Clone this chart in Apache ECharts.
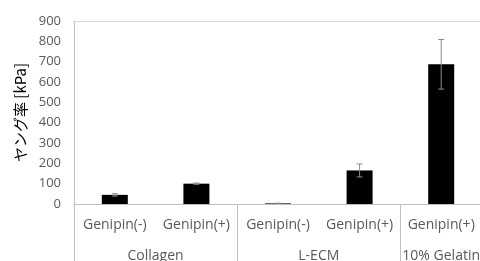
<!DOCTYPE html>
<html>
<head>
<meta charset="utf-8">
<script src="https://cdn.jsdelivr.net/npm/echarts@6/dist/echarts.min.js"></script>
<style>
  html, body { margin: 0; padding: 0; background: #fff; }
  #chart { width: 480px; height: 261px; }
</style>
</head>
<body>
<div id="chart"></div>
<script>
// Data
const categories = ["Genipin(-)", "Genipin(+)", "Genipin(-)", "Genipin(+)", "Genipin(+)"];
const groupLabels = ["", "", "Collagen", "", "", "", "L-ECM", "", "", "10% Gelatin", ""];
const values = [45, 100, 3, 165, 687];
const errors = [6, 3, 1, 32, 122];
const yTicks = { min: 0, max: 900, interval: 100 };

const chartDom = document.getElementById("chart");
const myChart = echarts.init(chartDom);

const lineColor = "#bfbfbf";
const textColor = "#595959";
const fontFamily = "'Open Sans', 'Noto Sans CJK JP', sans-serif";

// error bar data: [index, low, high]
const errData = values.map((v, i) => [i, v - errors[i], v + errors[i]]);

const option = {
  animation: false,
  grid: { left: 74, right: -2, top: 21, bottom: 57, containLabel: false, outerBoundsMode: "none" },
  xAxis: [
    {
      type: "category",
      data: categories,
      position: "bottom",
      axisLine: { show: true, lineStyle: { color: lineColor } },
      axisTick: {
        show: true,
        length: 60,
        interval: (idx) => idx === 0 || idx === 2 || idx === 4,
        lineStyle: { color: lineColor }
      },
      axisLabel: { color: textColor, fontSize: 14, margin: 14, fontFamily: fontFamily, interval: 0 }
    },
    {
      type: "category",
      data: groupLabels,
      boundaryGap: false,
      position: "bottom",
      offset: 0,
      axisLine: { show: false },
      axisTick: { show: false },
      axisLabel: { color: textColor, fontSize: 14, margin: 45, fontFamily: fontFamily, interval: 0, hideOverlap: false }
    },
    {
      type: "category",
      data: categories,
      position: "top",
      axisLine: { show: true, lineStyle: { color: "#d9d9d9" } },
      axisTick: { show: false },
      axisLabel: { show: false }
    }
  ],
  yAxis: {
    type: "value",
    min: yTicks.min,
    max: yTicks.max,
    interval: yTicks.interval,
    name: "ヤング率 [kPa]",
    nameLocation: "middle",
    nameGap: 46,
    nameRotate: 90,
    nameTextStyle: { color: "#000", fontSize: 15, fontFamily: "'Noto Sans CJK JP', sans-serif" },
    axisLine: { show: true, lineStyle: { color: lineColor } },
    axisTick: { show: false },
    splitLine: { show: false },
    axisLabel: { color: textColor, fontSize: 13, margin: 13, fontFamily: fontFamily }
  },
  series: [
    {
      type: "bar",
      data: values,
      barWidth: 26,
      itemStyle: { color: "#000" }
    },
    {
      type: "custom",
      data: errData,
      z: 10,
      renderItem: function (params, api) {
        const x = api.value(0);
        const lo = api.coord([x, api.value(1)]);
        const hi = api.coord([x, api.value(2)]);
        const cap = 3;
        const style = { stroke: "#8c8c8c", lineWidth: 1 };
        return {
          type: "group",
          children: [
            { type: "line", shape: { x1: hi[0], y1: hi[1], x2: lo[0], y2: lo[1] }, style: style },
            { type: "line", shape: { x1: hi[0] - cap, y1: hi[1], x2: hi[0] + cap, y2: hi[1] }, style: style },
            { type: "line", shape: { x1: lo[0] - cap, y1: lo[1], x2: lo[0] + cap, y2: lo[1] }, style: style }
          ]
        };
      }
    }
  ]
};

myChart.setOption(option);
</script>
</body>
</html>
